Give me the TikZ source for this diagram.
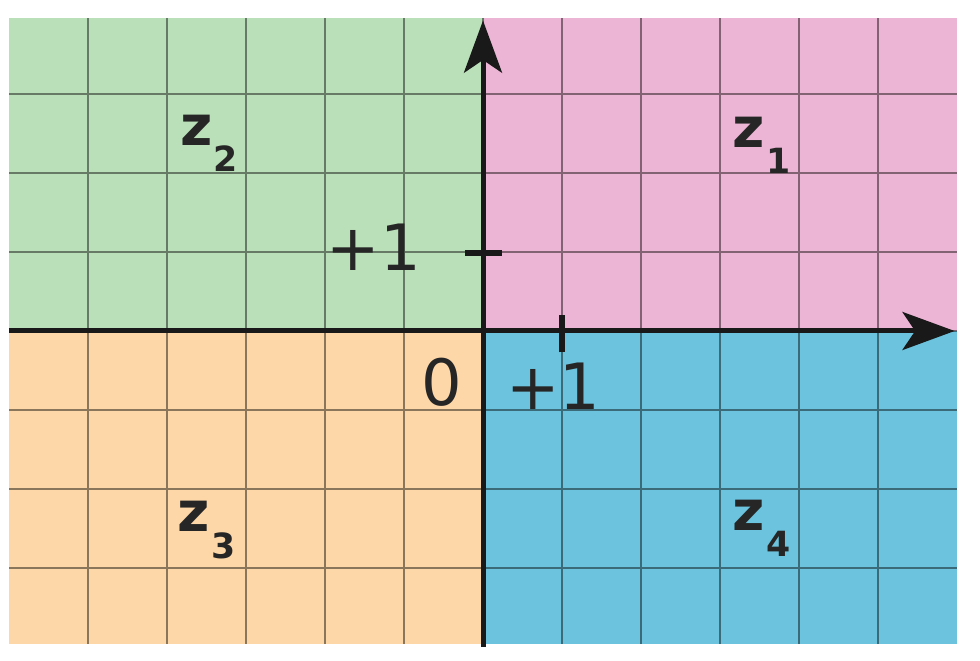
\documentclass[tikz,border=0pt]{standalone}
\usepackage{fontspec}
\setmainfont{DejaVu Sans}
\usetikzlibrary{arrows.meta}
\definecolor{quadI}{RGB}{236,181,213}
\definecolor{quadII}{RGB}{186,224,185}
\definecolor{quadIII}{RGB}{253,215,167}
\definecolor{quadIV}{RGB}{108,195,221}

\tikzset{
  gridline/.style={line width=1pt, black, opacity=.45},
  axis/.style={line width=1.8pt, black!90},
  tick/.style={line width=2.2pt, black!90},
  numlabel/.style={inner sep=0pt, text=black!85, font=\fontsize{23}{26}\selectfont},
  zlabel/.style={inner sep=0pt, anchor=base west, text=black!85, font=\fontsize{20}{24}\selectfont\bfseries}
}
\newcommand{\zsub}[1]{z\kern.5pt\raisebox{-0.33cm}{\fontsize{12.5}{14}\selectfont\bfseries #1}}

\begin{document}
\begin{tikzpicture}[x=1cm, y=.99cm, >={Stealth[length=6.6mm, width=4.8mm, inset=1.6mm]}]
  \useasboundingbox (-6.114cm,-4.165cm) rectangle (6.291cm,4.19cm);

  % quadrants
  \fill[quadI]   (0,0) rectangle (6,4);
  \fill[quadII]  (-6,0) rectangle (0,4);
  \fill[quadIII] (-6,-4) rectangle (0,0);
  \fill[quadIV]  (0,-4) rectangle (6,0);
  \draw[gridline] (-5.999,-3.999) grid (5.999,3.999);

  \coordinate (O) at (0,0);
  \coordinate (xmin) at (-6,0);
  \coordinate (xmax) at (5.97,0);
  \coordinate (ymin) at (0,-4.04);
  \coordinate (ymax) at (0,3.97);
  \coordinate (xone) at (1,0);
  \coordinate (yone) at (0,1);

  \draw[axis, ->] (xmin) -- (xmax);
  \draw[axis, ->] (ymin) -- (ymax);
  \draw[tick] ([yshift=-2.7mm]xone) -- ([yshift=2mm]xone);
  \draw[tick] ([xshift=-2.3mm]yone) -- ([xshift=2.4mm]yone);

  \node[numlabel] (ylbl) at (-1.38,1.07) {+1};
  \node[numlabel] (olbl) at (-0.52,-0.66) {0};
  \node[numlabel] (xlbl) at (0.89,-0.70) {+1};

  \node[zlabel] (zone)   at (3.15,2.35)   {\zsub{1}};
  \node[zlabel] (ztwo)   at (-3.84,2.37)  {\zsub{2}};
  \node[zlabel] (zthree) at (-3.87,-2.57) {\zsub{3}};
  \node[zlabel] (zfour)  at (3.15,-2.55)  {\zsub{4}};
\end{tikzpicture}
\end{document}
